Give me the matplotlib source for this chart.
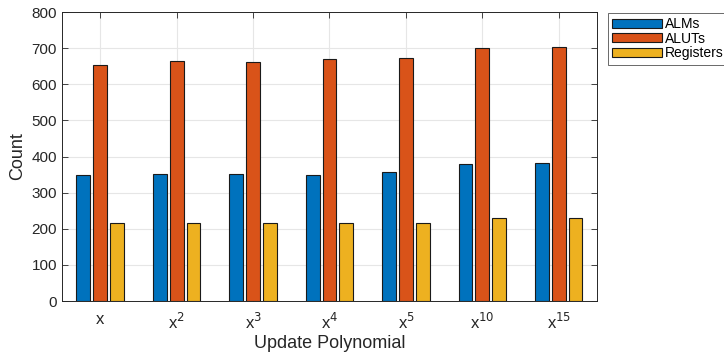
import matplotlib
matplotlib.use("Agg")
import matplotlib.pyplot as plt
import numpy as np

plt.rcParams['font.family'] = ['Liberation Sans', 'DejaVu Sans']

# data
polys = ["x", "x$^{2}$", "x$^{3}$", "x$^{4}$", "x$^{5}$", "x$^{10}$", "x$^{15}$"]
alms = [350, 352, 352, 350, 358, 379, 382]
aluts = [653, 664, 662, 669, 673, 700, 702]
regs = [216, 216, 216, 216, 216, 229, 229]
series = ["ALMs", "ALUTs", "Registers"]
colors = ["#0072BD", "#D95319", "#EDB120"]

fig = plt.figure(figsize=(7.24, 3.54), dpi=100)
ax = fig.add_axes([0.0856, 0.1497, 0.7390, 0.8163])

x = np.arange(1, len(polys) + 1)
off = 0.22
w = 0.18
for i, (vals, name, c) in enumerate(zip([alms, aluts, regs], series, colors)):
    ax.bar(x + (i - 1) * off, vals, w, color=c, edgecolor="#1a1a1a",
           linewidth=0.8, label=name, zorder=3)

ax.set_xlim(0.5, 7.5)
ax.set_ylim(0, 800)
ax.set_yticks(np.arange(0, 801, 100))
ax.set_xticks(x)
ax.set_xticklabels(polys)
ax.grid(True, color="#e6e6e6", lw=0.8, zorder=0)
ax.tick_params(direction="in", top=True, right=True, labelsize=11,
               colors="#262626", length=4, width=0.6)
ax.tick_params(axis="x", pad=8, labelsize=12)
for s in ax.spines.values():
    s.set_color("#262626")
    s.set_linewidth(0.7)
ax.set_ylabel("Count", fontsize=13, color="#262626")
ax.set_xlabel("Update Polynomial", fontsize=13, color="#262626", labelpad=2)

leg = ax.legend(loc="upper left", bbox_to_anchor=(1.02, 0.997), fontsize=10,
                frameon=True, fancybox=False, edgecolor="#262626",
                handlelength=3.6, handleheight=0.6, handletextpad=0.25,
                borderpad=0.3, labelspacing=0.05, borderaxespad=0)
leg.get_frame().set_linewidth(0.6)

fig.savefig("out.png", dpi=100)
